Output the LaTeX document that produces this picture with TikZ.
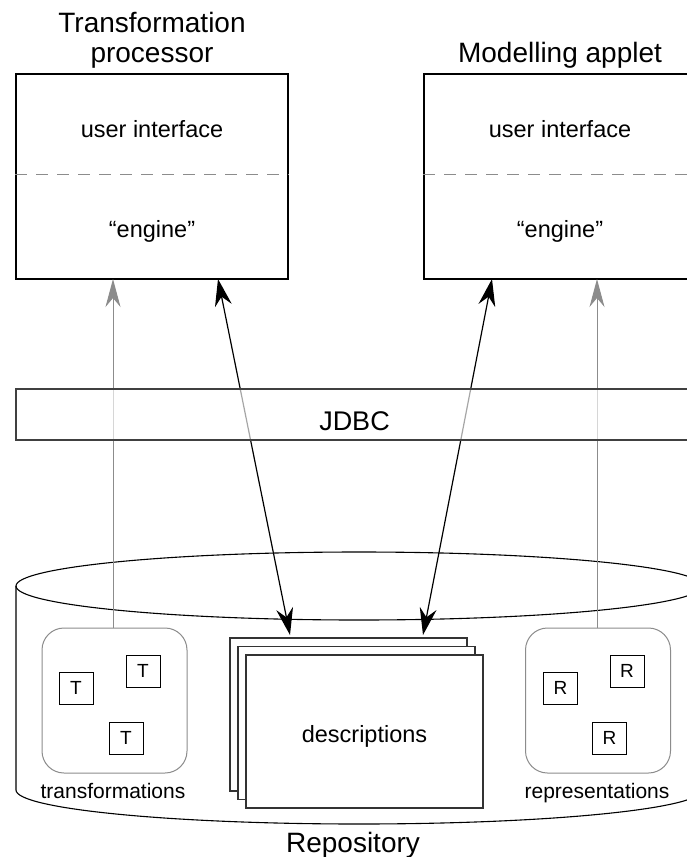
\documentclass[tikz,border=0pt]{standalone}
\usepackage{fontspec}
\setmainfont{Liberation Sans}
\usetikzlibrary{arrows.meta}
\begin{document}
\begin{tikzpicture}[x=1pt,y=-1pt,
  fs/.style={font=\fontsize{#1}{#1}\selectfont},
  title/.style={fs=28, inner sep=0pt, anchor=base},
  lbl/.style={fs=23.5, inner sep=0pt, anchor=base},
  small/.style={fs=21, inner sep=0pt, anchor=base},
  compbox/.style={draw=black, line width=1.2pt, fill=white, minimum width=272pt, minimum height=205pt, inner sep=0pt},
  sep/.style={draw=black!45, line width=1pt, dash pattern=on 12pt off 9pt},
  sheet/.style={draw=black!80, line width=1.1pt, fill=white, minimum width=237pt, minimum height=153pt, inner sep=0pt},
  grp/.style={draw=black!45, line width=1pt, rounded corners=22pt, minimum width=145pt, minimum height=145pt, inner sep=0pt},
  item/.style={draw=black, line width=1pt, fill=white, minimum width=34pt, minimum height=32pt, inner sep=0pt, fs=19},
  cyl/.style={draw=black, line width=1.1pt},
  grayarrow/.style={draw=black!45, line width=1pt, -{Stealth[length=28pt,width=15pt,inset=9pt]}},
  blackarrow/.style={draw=black, line width=1.2pt, {Stealth[length=27pt,width=17pt,inset=9pt]}-{Stealth[length=27pt,width=17pt,inset=9pt]}},
  jdbcbox/.style={draw=black!75, line width=1.3pt, fill=white, fill opacity=0.65, minimum width=686pt, minimum height=51pt, inner sep=0pt}
]
\useasboundingbox (0,0) rectangle (687,857);
\clip (0,0) rectangle (687,857);
\fill[white] (0,0) rectangle (687,857);

% repository cylinder
\draw[cyl, fill=white] (16,586) -- (16,790) arc[start angle=180, end angle=0, x radius=343, y radius=34] -- (702,586);
\draw[cyl] (359,586) ellipse [x radius=343, y radius=34];
\node[title] (repo) at (353,852) {Repository};

% transformations group
\node[grp] (tg) at (114.5,700.5) {};
\node[item] (ta) at (76,688) {T};
\node[item] (tb) at (143,671) {T};
\node[item] (tc) at (126,738) {T};
\node[small] (tl) at (113,798) {transformations};

% representations group
\node[grp] (rg) at (598,700.5) {};
\node[item] (ra) at (560.5,688) {R};
\node[item] (rb) at (627,671) {R};
\node[item] (rc) at (609.5,738) {R};
\node[small] (rl) at (597,798) {representations};

% descriptions stack
\node[sheet] (s1) at (348.5,714.5) {};
\node[sheet] (s2) at (356.5,723) {};
\node[sheet] (s3) at (364.5,731.5) {};
\node[lbl] (desc) at (364.5,742) {descriptions};

% components
\node[title] (t1a) at (152,32) {Transformation};
\node[title] (t1b) at (152,62) {processor};
\node[compbox] (tp) at (152,176.5) {};
\draw[sep] (tp.west |- 0,174) -- (tp.east |- 0,174);
\node[lbl] (tpu) at (152,137) {user interface};
\node[lbl] (tpe) at (152,237) {“engine”};

\node[title] (t2) at (560,62) {Modelling applet};
\node[compbox] (ma) at (560,176.5) {};
\draw[sep] (ma.west |- 0,174) -- (ma.east |- 0,174);
\node[lbl] (mau) at (560,137) {user interface};
\node[lbl] (mae) at (560,237) {“engine”};

% connectors
\coordinate (g1a) at (113,628);
\coordinate (g1b) at (113,279);
\coordinate (g2a) at (597,628);
\coordinate (g2b) at (597,279);
\coordinate (b1a) at (218,279);
\coordinate (b1b) at (290,635);
\coordinate (b2a) at (492,279);
\coordinate (b2b) at (423,635);
\draw[grayarrow] (g1a) -- (g1b);
\draw[grayarrow] (g2a) -- (g2b);
\draw[blackarrow] (b1a) -- (b1b);
\draw[blackarrow] (b2a) -- (b2b);

% JDBC layer
\node[jdbcbox] (jdbc) at (359,414.5) {};
\node[fs=27, inner sep=0pt, anchor=base] (jdbct) at (354.5,430) {JDBC};
\end{tikzpicture}
\end{document}
